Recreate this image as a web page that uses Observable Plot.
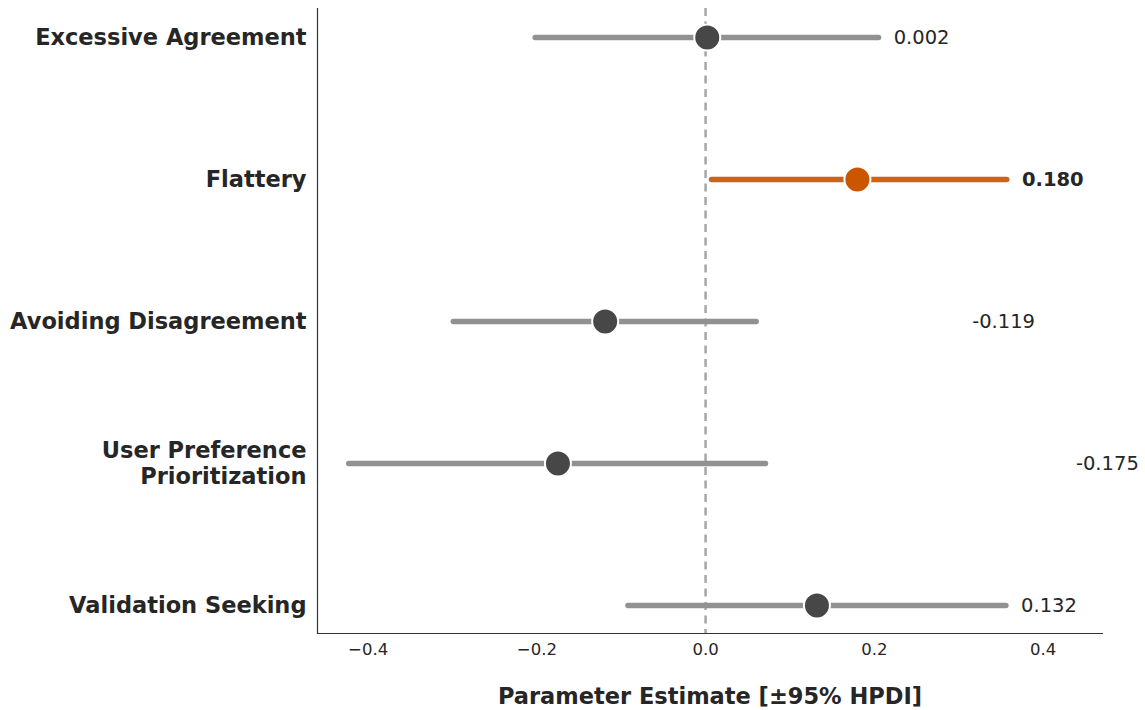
<!DOCTYPE html>
<html>
<head>
<meta charset="utf-8">
<script src="https://cdn.jsdelivr.net/npm/d3@7"></script>
<script src="https://cdn.jsdelivr.net/npm/@observablehq/plot@0.6"></script>
<style>
  html, body { margin: 0; padding: 0; background: #fff; }
  #chart svg { display: block; }
</style>
</head>
<body>
<div id="chart"></div>
<script>
const categories = ["Excessive Agreement", "Flattery", "Avoiding Disagreement", "User Preference\nPrioritization", "Validation Seeking"];
const means = [0.002, 0.180, -0.119, -0.175, 0.132];
const lows = [-0.202, 0.007, -0.299, -0.423, -0.092];
const highs = [0.205, 0.357, 0.060, 0.071, 0.356];
const highlighted = ["Flattery"];
const xTicks = [-0.4, -0.2, 0.0, 0.2, 0.4];
const xLabel = "Parameter Estimate [±95% HPDI]";

const rows = categories.map((c, i) => ({
  cat: c, mean: means[i], lo: lows[i], hi: highs[i],
  hl: highlighted.includes(c),
  labelX: highs[i] + 0.018 + Math.max(0, -2 * means[i])
}));
const fmt = d => d3.format(".3f")(d.mean).replace("−", "-");

const orange = "#cc5500";
const plot = Plot.plot({
  width: 1145,
  height: 710,
  marginLeft: 317,
  marginRight: 43,
  marginTop: 8,
  marginBottom: 77,
  style: { fontFamily: "DejaVu Sans", color: "#262626", background: "#fff" },
  x: { domain: [-0.46, 0.4705], ticks: xTicks, tickFormat: d3.format(".1f") },
  y: { type: "point", domain: categories, padding: 0.2 },
  marks: [
    Plot.ruleX([0], { stroke: "#a6a6a6", strokeWidth: 2.5, strokeDasharray: "8,5.5" }),
    Plot.link(rows, {
      x1: "lo", x2: "hi", y1: "cat", y2: "cat",
      stroke: d => d.hl ? orange : "#919191",
      strokeWidth: 5.5, strokeLinecap: "round", strokeOpacity: d => d.hl ? 0.92 : 1
    }),
    Plot.dot(rows, {
      x: "mean", y: "cat", r: 13,
      fill: d => d.hl ? orange : "#474747",
      stroke: "#fff", strokeWidth: 2
    }),
    Plot.text(rows.filter(d => !d.hl), {
      x: "labelX", y: "cat", text: fmt,
      textAnchor: "start", fontSize: 19.5, fill: "#262626"
    }),
    Plot.text(rows.filter(d => d.hl), {
      x: "labelX", y: "cat", text: fmt,
      textAnchor: "start", fontSize: 19.5, fontWeight: "bold", fill: "#262626"
    }),
    Plot.axisX({ ticks: xTicks, tickSize: 0, tickPadding: 10, fontSize: 16.5, label: null, tickFormat: d3.format(".1f") }),
    Plot.axisY({ tickSize: 0, tickPadding: 11, fontSize: 22.5, fontWeight: "bold", lineHeight: 1.15, label: null, dy: -1 }),
    Plot.frame({ anchor: "left", stroke: "#333", strokeWidth: 1.2 }),
    Plot.frame({ anchor: "bottom", stroke: "#333", strokeWidth: 1.2 }),
    Plot.text([xLabel], { frameAnchor: "bottom", dy: 63, text: d => d, fontSize: 22.5, fontWeight: "bold", fill: "#262626", lineAnchor: "middle" })
  ]
});
document.getElementById("chart").appendChild(plot);
</script>
</body>
</html>
